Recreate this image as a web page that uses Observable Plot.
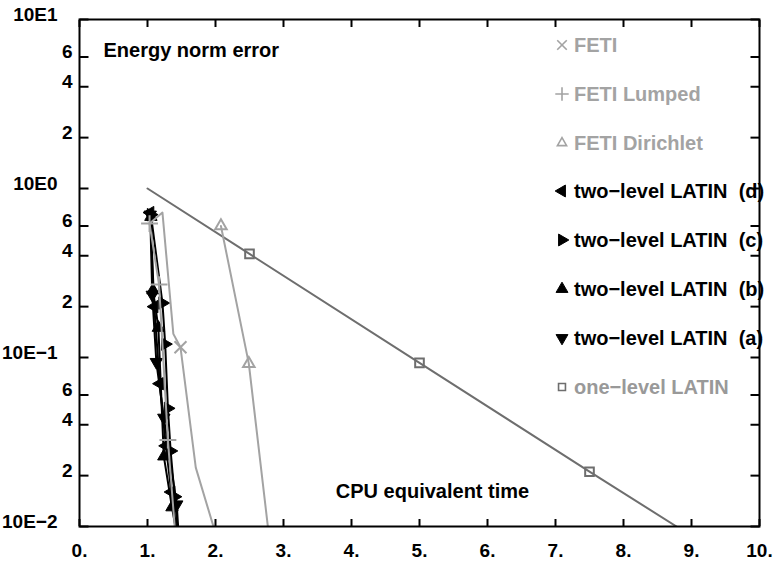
<!DOCTYPE html>
<html><head><meta charset="utf-8">
<script src="https://cdn.jsdelivr.net/npm/d3@7"></script>
<script src="https://cdn.jsdelivr.net/npm/@observablehq/plot@0.6"></script>
<style>
body{margin:0;background:#fff;}
#wrap{position:relative;width:773px;height:567px;font-family:"Liberation Sans",Arial,Helvetica,sans-serif;font-weight:bold;}
#legend{position:absolute;left:0;top:0;width:0;height:0;}
.item{position:absolute;display:flex;align-items:center;font-size:20px;white-space:pre;line-height:24px;}
.item svg{margin-right:5px;overflow:visible;}
</style></head><body><div id="wrap"></div>
<script>
// ---- axis ticks ----
const xTicks = [0,1,2,3,4,5,6,7,8,9,10];
const xTickLabels = ["0.","1.","2.","3.","4.","5.","6.","7.","8.","9.","10."];
const yDecades = [0.01,0.1,1,10];
const yDecadeLabels = ["10E\u22122","10E\u22121","10E0","10E1"];
const yMinors = [0.02,0.04,0.06,0.2,0.4,0.6,2,4,6];
const yMinorLabels = ["2","4","6","2","4","6","2","4","6"];
const yAllTicks = [...yDecades, ...yMinors];
const xLabel = "CPU equivalent time";
const yLabel = "Energy norm error";

// ---- series (line vertices + marker positions) ----
const fetiX = [1.03,1.22,1.38,1.485,1.71,1.97];
const fetiY = [0.62,0.72,0.138,0.115,0.0223,0.01];
const fetiMarkX = [1.485];
const fetiMarkY = [0.115];

const lumpedX = [1.03,1.17,1.30,1.40];
const lumpedY = [0.62,0.27,0.0325,0.01];
const lumpedMarkX = [1.03,1.17,1.30];
const lumpedMarkY = [0.62,0.27,0.0325];

const dirichletX = [2.08,2.49,2.77];
const dirichletY = [0.60,0.092,0.01];
const dirichletMarkX = [2.08,2.49];
const dirichletMarkY = [0.60,0.092];

const latinDX = [1.04,1.10,1.18,1.27,1.35,1.42];
const latinDY = [0.72,0.20,0.07,0.030,0.016,0.01];
const latinCX = [1.05,1.22,1.26,1.30,1.34,1.40,1.44];
const latinCY = [0.70,0.21,0.12,0.05,0.028,0.015,0.01];
const latinBX = [1.05,1.08,1.16,1.24,1.36,1.41];
const latinBY = [0.68,0.25,0.15,0.026,0.013,0.01];
const latinAX = [1.04,1.07,1.13,1.24,1.43,1.45];
const latinAY = [0.70,0.235,0.094,0.044,0.0135,0.01];

const oneX = [1.0,2.5,5.0,7.5,8.78];
const oneY = [1.0,0.41,0.093,0.0211,0.01];
const oneMarkX = [2.5,5.0,7.5];
const oneMarkY = [0.41,0.093,0.0211];

const GRAY = "#a3a3a3", DARK = "#6e6e6e", BLACK = "#000";
const zip = (xs, ys) => xs.map((x, i) => ({x, y: ys[i]}));

// series table built from arrays
const series = [
  ["FETI", fetiX, fetiY, fetiMarkX, fetiMarkY, "times", 0, GRAY, false, GRAY],
  ["FETI Lumped", lumpedX, lumpedY, lumpedMarkX, lumpedMarkY, "plus", 0, GRAY, false, GRAY],
  ["FETI Dirichlet", dirichletX, dirichletY, dirichletMarkX, dirichletMarkY, "triangle2", 0, GRAY, false, GRAY],
  ["two\u2212level LATIN  (d)", latinDX, latinDY, latinDX.slice(0,-1), latinDY.slice(0,-1), "triangle", -90, BLACK, true, BLACK],
  ["two\u2212level LATIN  (c)", latinCX, latinCY, latinCX.slice(0,-1), latinCY.slice(0,-1), "triangle", 90, BLACK, true, BLACK],
  ["two\u2212level LATIN  (b)", latinBX, latinBY, latinBX.slice(0,-1), latinBY.slice(0,-1), "triangle", 0, BLACK, true, BLACK],
  ["two\u2212level LATIN  (a)", latinAX, latinAY, latinAX.slice(0,-1), latinAY.slice(0,-1), "triangle", 180, BLACK, true, BLACK],
  ["one\u2212level LATIN", oneX, oneY, oneMarkX, oneMarkY, "square2", 0, DARK, false, "#999"]
].map(([name, lx, ly, mx, my, symbol, rotate, color, filled, textColor]) =>
  ({name, line: zip(lx, ly), marks: zip(mx, my), symbol, rotate, color, filled, textColor}));

// drawing order: one-level, black LATIN, then gray FETI
const order = [7, 3, 4, 5, 6, 0, 1, 2];
const marks = [];
for (const i of order) {
  const s = series[i];
  marks.push(Plot.line(s.line, {x: "x", y: "y", stroke: s.color, strokeWidth: 2, clip: true}));
  marks.push(Plot.dot(s.marks, {x: "x", y: "y", symbol: s.symbol, rotate: s.rotate, r: s.filled ? 4.6 : 5.5,
    stroke: s.color, strokeWidth: s.filled ? 1 : 2, fill: s.filled ? s.color : "none"}));
}

// inward tick symbols for the y axes
const tickInRight = {draw(ctx) { ctx.moveTo(0, 0); ctx.lineTo(9, 0); }};
const tickInLeft = {draw(ctx) { ctx.moveTo(0, 0); ctx.lineTo(-9, 0); }};

const chart = Plot.plot({
  width: 773, height: 567,
  marginLeft: 79, marginRight: 14, marginTop: 19, marginBottom: 41,
  style: {fontFamily: '"Liberation Sans", Arial, sans-serif', fontWeight: "bold", fontSize: "19px", background: "#fff", color: "#000"},
  x: {domain: [0, 10]},
  y: {type: "log", domain: [0.01, 10], axis: null},
  marks: [
    ...marks,
    Plot.frame({stroke: "#000", strokeWidth: 2}),
    Plot.axisX({anchor: "bottom", ticks: xTicks, tickSize: -7, tickPadding: 24, strokeWidth: 2,
      tickFormat: d => xTickLabels[xTicks.indexOf(d)], label: null, fontSize: 19}),
    Plot.axisX({anchor: "top", ticks: xTicks, tickSize: -7, strokeWidth: 2, fill: "none", label: null}),
    // y ticks (left and right, pointing inward)
    Plot.dot(yAllTicks, {y: d => d, frameAnchor: "left", symbol: tickInRight, stroke: "#000", strokeWidth: 2, fill: "none"}),
    Plot.dot(yAllTicks, {y: d => d, frameAnchor: "right", symbol: tickInLeft, stroke: "#000", strokeWidth: 2, fill: "none"}),
    // y tick labels
    Plot.text(yDecades, {y: d => d, text: (d, i) => yDecadeLabels[i], frameAnchor: "left", textAnchor: "end", dx: -22, dy: -5, fontSize: 19, fill: "#000"}),
    Plot.text(yMinors, {y: d => d, text: (d, i) => yMinorLabels[i], frameAnchor: "left", textAnchor: "end", dx: -7, dy: -5, fontSize: 19, fill: "#000"}),
    Plot.text([yLabel], {text: d => d, frameAnchor: "top-left", textAnchor: "start", lineAnchor: "middle", dx: 24, dy: 31, fontSize: 20, fill: "#000"}),
    Plot.text([xLabel], {text: d => d, frameAnchor: "bottom", textAnchor: "middle", lineAnchor: "middle", dx: 13, dy: -35, fontSize: 20, fill: "#000"})
  ]
});

const wrap = document.getElementById("wrap");
wrap.appendChild(chart);

// ---- legend (HTML overlay, inside the plot frame) ----
const legend = document.createElement("div");
legend.id = "legend";
wrap.appendChild(legend);
const symMap = {times: d3.symbolTimes, plus: d3.symbolPlus, triangle2: d3.symbolTriangle2, triangle: d3.symbolTriangle, square2: d3.symbolSquare2};
series.forEach((s, i) => {
  const item = document.createElement("div");
  item.className = "item";
  item.style.left = "555px";
  item.style.top = (45 + i * 48.8 - 12) + "px";
  item.style.color = s.textColor;
  const size = Math.PI * 4.4 * 4.4;
  const path = d3.symbol(symMap[s.symbol], size)();
  const svg = d3.create("svg").attr("width", 14).attr("height", 14);
  svg.append("path").attr("d", path)
    .attr("transform", `translate(7,7) rotate(${s.rotate})`)
    .attr("fill", s.filled ? s.color : "none")
    .attr("stroke", s.color)
    .attr("stroke-width", s.filled ? 1 : 1.6);
  item.appendChild(svg.node());
  const span = document.createElement("span");
  span.textContent = s.name;
  item.appendChild(span);
  legend.appendChild(item);
});
</script></body></html>
